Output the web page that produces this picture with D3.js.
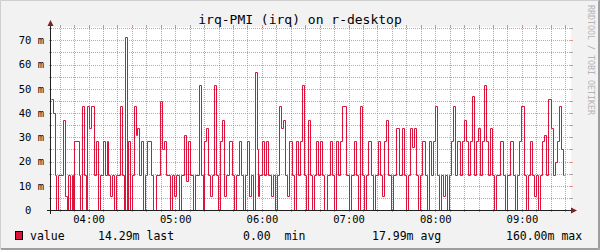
<!DOCTYPE html>
<html>
<head>
<meta charset="utf-8">
<script src="https://cdn.jsdelivr.net/npm/d3@7"></script>
<style>
body { margin: 0; background: #f2f2f2; }
text { font-family: "DejaVu Sans Mono", monospace; }
</style>
</head>
<body>
<div id="chart"></div>
<script>
// graph window: six hours
var startTime = new Date(2024, 0, 1, 3, 34);
var endTime = new Date(2024, 0, 1, 9, 34);

// minute (after start) where each step begins, and the value in milli-units
var stepMinutes = [
  0, 1.4, 2.8, 3.5, 4.8, 8.3, 9.7, 11.1, 11.8, 13.2, 14.5, 15.2, 15.9, 19.4, 20.1,
  21.5, 22.8, 24.2, 24.9, 26.3, 27.7, 29.8, 31.2, 32.5, 33.9, 36.0, 37.4, 38.8, 39.5,
  40.8, 42.2, 43.6, 45.0, 47.8, 49.2, 50.5, 51.2, 52.6, 53.3, 54.7, 56.1, 57.5, 58.8,
  59.5, 60.9, 62.3, 63.7, 65.1, 66.5, 69.2, 70.6, 72.7, 75.5, 76.8, 78.2, 79.6, 82.4,
  83.8, 85.2, 86.5, 88.6, 90.0, 92.1, 93.5, 94.8, 96.2, 98.3, 99.7, 102.5, 103.8,
  105.2, 105.9, 107.3, 108.7, 110.1, 111.5, 112.8, 114.2, 115.6, 117.0, 118.4, 119.8,
  121.2, 123.2, 125.3, 126.7, 128.1, 130.2, 131.5, 132.9, 134.3, 135.7, 137.1, 138.5,
  139.8, 141.2, 142.6, 143.3, 144.0, 146.1, 147.5, 148.8, 150.2, 152.3, 153.7, 155.1,
  156.5, 157.8, 159.2, 160.6, 162.0, 163.4, 164.8, 166.8, 168.2, 169.6, 171.0, 172.4,
  173.8, 175.2, 176.5, 177.9, 179.3, 180.7, 182.1, 183.5, 184.8, 186.2, 187.6, 189.0,
  191.1, 193.2, 194.5, 195.9, 197.3, 198.7, 200.1, 201.5, 204.2, 206.3, 207.7, 209.8,
  211.2, 212.5, 213.9, 215.3, 216.7, 218.1, 219.5, 221.5, 222.9, 224.3, 226.4, 227.8,
  229.2, 230.5, 231.9, 233.3, 235.4, 236.8, 238.8, 240.9, 243.0, 244.4, 245.8, 247.2,
  248.5, 249.9, 251.3, 252.7, 254.1, 255.5, 256.8, 258.9, 260.3, 261.7, 263.1, 264.5,
  265.8, 267.2, 268.6, 270.0, 271.4, 272.8, 274.2, 275.5, 276.9, 278.3, 279.7, 281.1,
  283.2, 284.5, 285.9, 287.3, 288.7, 290.1, 291.5, 292.9, 294.2, 295.6, 297.0, 298.4,
  299.8, 301.2, 302.6, 303.9, 305.3, 306.7, 308.1, 310.9, 313.0, 314.4, 315.8, 317.8,
  319.9, 321.3, 322.7, 324.1, 325.5, 327.5, 328.9, 330.3, 331.7, 333.1, 334.5, 335.8,
  337.2, 338.5, 339.9, 341.3, 342.7, 344.1, 346.2, 347.6, 349.0, 350.3, 351.7, 353.1,
  354.5
];
var stepValues = [
  45.7, 40.2, 14.29, 0, 14.29, 37, 5.9, 0, 14.29, 0, 14.29, 0, 28.57, 14.29, 0,
  42.86, 14.29, 0, 42.86, 34, 42.86, 14.29, 28.57, 0, 14.29, 28.57, 14.29, 28.57, 14.29,
  5.9, 14.29, 0, 14.29, 42.86, 14.29, 0, 71.43, 0, 28.57, 0, 14.29, 42.86, 31,
  34, 14.29, 28.57, 0, 14.29, 28.57, 14.29, 0, 14.29, 45, 25, 28.57, 14.29, 0,
  14.29, 5.9, 14.29, 0, 14.29, 31, 11.8, 28.57, 14.29, 0, 14.29, 51.6, 14.29,
  0, 28.57, 34, 14.29, 5.9, 14.29, 51.6, 14.29, 0, 28.57, 37, 5.9,
  14.29, 28.57, 14.29, 0, 14.29, 28.57, 14.29, 0, 14.29, 28.57, 5.9, 14.29,
  0, 57.14, 25, 5.9, 14.29, 28.57, 14.29, 28.57, 14.29, 5.9, 14.29, 0,
  14.29, 42.86, 34, 37, 14.29, 5.9, 28.57, 14.29, 0, 28.57, 14.29, 28.57,
  51.6, 14.29, 0, 37, 14.29, 0, 14.29, 28.57, 14.29, 28.57, 14.29, 0,
  14.29, 28.57, 14.29, 0, 28.57, 14.29, 28.57, 42.86, 14.29, 0, 14.29, 28.57,
  14.29, 0, 42.86, 14.29, 0, 14.29, 28.57, 14.29, 0, 14.29, 28.57, 14.29,
  5.9, 28.57, 37, 14.29, 0, 14.29, 34, 14.29, 34, 14.29, 0, 14.29,
  34, 26, 34, 14.29, 0, 14.29, 28.57, 14.29, 0, 28.57, 14.29, 28.57,
  42.86, 14.29, 0, 14.29, 5.9, 14.29, 0, 14.29, 28.57, 42.86, 14.29, 28.57,
  14.29, 28.57, 37, 28.57, 14.29, 28.57, 47, 14.29, 28.57, 34, 14.29, 28.57,
  51.6, 28.57, 14.29, 34, 14.29, 0, 14.29, 28.57, 14.29, 0, 14.29, 28.57,
  14.29, 0, 14.29, 28.57, 42.86, 14.29, 0, 14.29, 28.57, 14.29, 5.9, 14.29,
  0, 14.29, 28.57, 31, 14.29, 46, 34, 14.29, 20, 28.57, 42.86, 25,
  14.29
];
var lastMinute = 355.2;

var yTicks = [0, 10, 20, 30, 40, 50, 60, 70];
var titleText = "irq-PMI (irq) on r-desktop";
var seriesName = "value";
var legendStats = ["14.29m last", "0.00  min", "17.99m avg", "160.00m max"];
var watermark = "RRDTOOL / TOBI OETIKER";

var svgWidth = 600;
var svgHeight = 250;
var plot = { left: 51, right: 571, top: 27, bottom: 210 };
var lineColor = "#dc143c";
var gridColor = "rgba(143,143,143,0.75)";
var mgridColor = "rgba(222,79,79,0.6)";

var svg = d3.select("#chart")
  .append("svg")
  .attr("width", svgWidth)
  .attr("height", svgHeight);

// background with bevel
svg.append("rect")
  .attr("width", svgWidth)
  .attr("height", svgHeight)
  .attr("fill", "#f2f2f2");
svg.append("path")
  .attr("d", "M0.5,249 L0.5,0.5 L599,0.5")
  .attr("fill", "none")
  .attr("stroke", "#cfcfcf");
svg.append("path")
  .attr("d", "M1,248.5 L598.5,248.5 L598.5,1")
  .attr("fill", "none")
  .attr("stroke", "#9e9e9e")
  .attr("stroke-width", 1);
svg.append("path")
  .attr("d", "M1,249.5 L599.5,249.5 L599.5,0")
  .attr("fill", "none")
  .attr("stroke", "#9e9e9e");

// canvas
svg.append("rect")
  .attr("x", plot.left)
  .attr("y", plot.top)
  .attr("width", plot.right - plot.left)
  .attr("height", plot.bottom - plot.top)
  .attr("fill", "#ffffff");

var toDate = function(m) { return new Date(startTime.getTime() + m * 60000); };

var xScale = d3.scaleTime()
  .domain([startTime, endTime])
  .range([plot.left, plot.right]);

var yScale = d3.scaleLinear()
  .domain([0, 75.5])
  .range([plot.bottom, plot.top]);

// grid
var gridGroup = svg.append("g");
var minorTimes = d3.timeMinute.every(10).range(startTime, endTime)
  .filter(function(t) { return t.getMinutes() % 30 !== 0; });
var majorTimes = d3.timeMinute.every(30).range(startTime, endTime);

function vGrid(times, color) {
  times.forEach(function(t) {
    var px = Math.round(xScale(t)) + 0.5;
    gridGroup.append("line")
      .attr("x1", px).attr("x2", px)
      .attr("y1", plot.top).attr("y2", plot.bottom)
      .attr("stroke", color)
      .attr("stroke-dasharray", "1,1");
    gridGroup.append("line")
      .attr("x1", px).attr("x2", px)
      .attr("y1", plot.top - 2).attr("y2", plot.top + 1)
      .attr("stroke", color);
    gridGroup.append("line")
      .attr("x1", px).attr("x2", px)
      .attr("y1", plot.bottom - 1).attr("y2", plot.bottom + 2)
      .attr("stroke", color);
  });
}
vGrid(minorTimes, gridColor);
vGrid(majorTimes, mgridColor);

d3.range(5, 76, 5).forEach(function(v) {
  var py = Math.round(yScale(v)) + 0.5;
  var color = v % 10 === 0 ? mgridColor : gridColor;
  gridGroup.append("line")
    .attr("x1", plot.left).attr("x2", plot.right)
    .attr("y1", py).attr("y2", py)
    .attr("stroke", color)
    .attr("stroke-dasharray", "1,1");
  gridGroup.append("line")
    .attr("x1", plot.left - 2).attr("x2", plot.left + 1)
    .attr("y1", py).attr("y2", py)
    .attr("stroke", color);
  gridGroup.append("line")
    .attr("x1", plot.right - 1).attr("x2", plot.right + 2)
    .attr("y1", py).attr("y2", py)
    .attr("stroke", color);
});

// data line
var points = stepMinutes.map(function(m, i) { return [toDate(m), stepValues[i]]; });
points.push([toDate(lastMinute), stepValues[stepValues.length - 1]]);

var line = d3.line()
  .x(function(d) { return Math.round(xScale(d[0])) + 0.5; })
  .y(function(d) { return Math.round(yScale(d[1])) + 0.5; })
  .curve(d3.curveStepAfter);

svg.append("path")
  .datum(points)
  .attr("d", line)
  .attr("fill", "none")
  .attr("stroke", lineColor)
  .attr("stroke-width", 1);

// axes lines and arrows
svg.append("line")
  .attr("x1", plot.left - 4).attr("x2", plot.right + 1)
  .attr("y1", plot.bottom + 0.5).attr("y2", plot.bottom + 0.5)
  .attr("stroke", "#1f1f1f");
svg.append("line")
  .attr("x1", plot.left - 0.5).attr("x2", plot.left - 0.5)
  .attr("y1", plot.bottom + 4).attr("y2", plot.top - 1)
  .attr("stroke", "#1f1f1f");
svg.append("path")
  .attr("d", "M" + (plot.right) + "," + (plot.bottom - 2.5) +
    " L" + (plot.right + 6) + "," + (plot.bottom + 0.5) +
    " L" + (plot.right) + "," + (plot.bottom + 3.5) + "Z")
  .attr("fill", "#801f1f");
svg.append("path")
  .attr("d", "M" + (plot.left - 3.5) + "," + (plot.top - 1) +
    " L" + (plot.left - 0.5) + "," + (plot.top - 7) +
    " L" + (plot.left + 2.5) + "," + (plot.top - 1) + "Z")
  .attr("fill", "#801f1f");

// axis labels
var xAxis = d3.axisBottom(xScale)
  .ticks(d3.timeHour.every(1))
  .tickFormat(d3.timeFormat("%H:%M"))
  .tickSize(0)
  .tickPadding(5.5);

svg.append("g")
  .attr("transform", "translate(0," + plot.bottom + ")")
  .call(xAxis)
  .call(function(g) { g.select(".domain").remove(); })
  .selectAll("text")
  .attr("font-family", "DejaVu Sans Mono")
  .attr("font-size", "10.5px")
  .attr("fill", "#000");

var yAxis = d3.axisLeft(yScale)
  .tickValues(yTicks)
  .tickFormat(function(d) { return d === 0 ? "0\u00a0\u00a0" : d + " m"; })
  .tickSize(0)
  .tickPadding(7);

svg.append("g")
  .attr("transform", "translate(" + plot.left + ",0)")
  .call(yAxis)
  .call(function(g) { g.select(".domain").remove(); })
  .selectAll("text")
  .attr("font-family", "DejaVu Sans Mono")
  .attr("font-size", "10.5px")
  .attr("fill", "#000");

// title
svg.append("text")
  .attr("x", 300)
  .attr("y", 23.5)
  .attr("text-anchor", "middle")
  .attr("font-size", "13px")
  .text(titleText);

// watermark
svg.append("text")
  .attr("transform", "translate(588,5) rotate(90)")
  .attr("font-size", "8.3px")
  .attr("fill", "#b4b4b4")
  .text(watermark);

// legend
svg.append("rect")
  .attr("x", 15.5).attr("y", 231.5)
  .attr("width", 7).attr("height", 8)
  .attr("fill", lineColor)
  .attr("stroke", "#000");

svg.append("text")
  .attr("x", 30)
  .attr("y", 240)
  .attr("font-size", "11.5px")
  .text(seriesName);

var statsX = [98, 243, 372, 506];
svg.selectAll(".stat")
  .data(legendStats)
  .enter()
  .append("text")
  .attr("class", "stat")
  .attr("x", function(d, i) { return statsX[i]; })
  .attr("y", 240)
  .attr("font-size", "11.5px")
  .style("white-space", "pre")
  .text(function(d) { return d; });
</script>
</body>
</html>
